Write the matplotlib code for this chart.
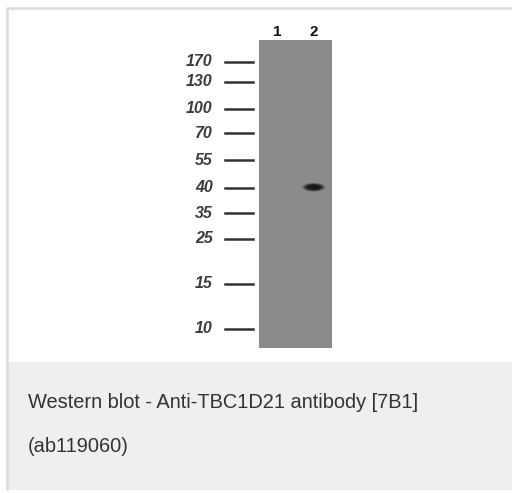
import numpy as np
import matplotlib.pyplot as plt
from matplotlib.patches import Ellipse, Rectangle

# marker ladder (kDa) and relative migration down the membrane (0 = top, 1 = bottom)
marker_kda = ['170', '130', '100', '70', '55', '40', '35', '25', '15', '10']
marker_mig = [0.071, 0.136, 0.224, 0.302, 0.390, 0.480, 0.562, 0.646, 0.792, 0.938]
lanes = ['1', '2']
band_lane = [2]
band_mig = [0.478]
caption = ['Western blot - Anti-TBC1D21 antibody [7B1]', '(ab119060)']

W, H = 512, 493
fig = plt.figure(figsize=(W/100, H/100), dpi=100)
fig.patch.set_facecolor('white')

# page frame / caption box in pixel coords
bg = fig.add_axes([0, 0, 1, 1])
bg.set_xlim(0, W)
bg.set_ylim(H, 0)
bg.axis('off')
bg.add_patch(Rectangle((7, 362), W-7, 128, facecolor='#eeefee', edgecolor='none'))
bg.plot([6, W], [8, 8], color='#dcdcdc', lw=1.8, solid_capstyle='butt')
bg.plot([7, 7], [8, 490], color='#dcdcdc', lw=1.8, solid_capstyle='butt')
bg.text(28, 402, caption[0], fontsize=14.4, color='#333333',
        family='Liberation Sans', va='center', ha='left')
bg.text(28, 447, caption[1], fontsize=14.4, color='#333333',
        family='Liberation Sans', va='center', ha='left')

# blot
x0, x1, y0, y1 = 259, 332, 40, 348
ax = fig.add_axes([x0/W, 1-y1/H, (x1-x0)/W, (y1-y0)/H])
ax.set_xlim(0, 2)
ax.set_ylim(1, 0)
ax.set_facecolor('#8b8b8b')
for s in ax.spines.values():
    s.set_visible(False)
ax.set_xticks([])
ax.set_yticks([])

for i, lab in enumerate(lanes):
    ax.text(i+0.5, -0.027, lab, ha='center', va='center', fontsize=11,
            fontweight='bold', color='#111111', family='Liberation Sans')

for lab, m in zip(marker_kda, marker_mig):
    ax.plot([-0.93, -0.16], [m, m], color='#333333', lw=1.8, clip_on=False)
    ax.text(-1.27, m, lab, ha='right', va='center', fontsize=11.5,
            style='italic', fontweight='bold', color='#3c3c3c',
            family='Liberation Sans')

# band, soft edges
for ln, m in zip(band_lane, band_mig):
    for k, a in zip([1.35, 1.15, 1.0, 0.75], [0.15, 0.3, 0.55, 0.85]):
        ax.add_patch(Ellipse((ln-0.5, m), 0.5*k, 0.022*k, facecolor='#151515',
                             edgecolor='none', alpha=a))

fig.savefig('out.png', dpi=100)
